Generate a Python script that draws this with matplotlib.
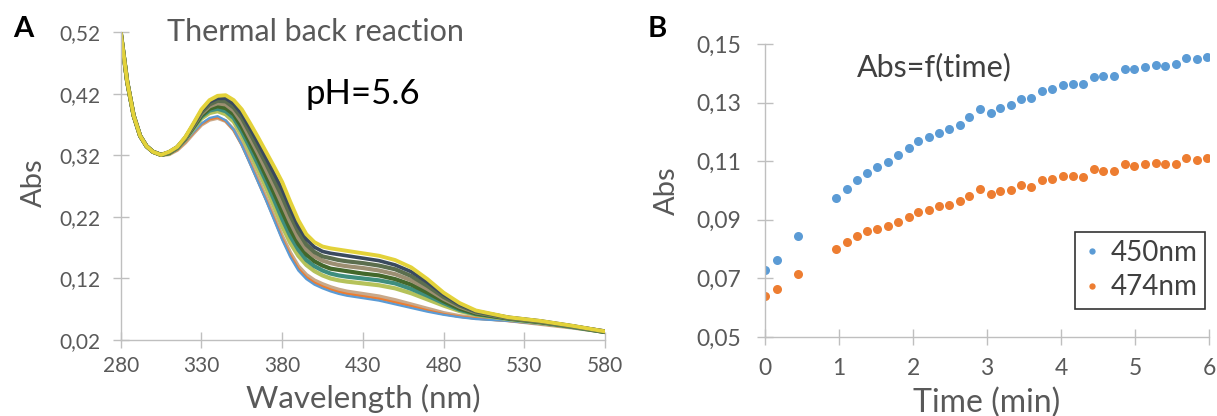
import matplotlib
matplotlib.use("Agg")
import matplotlib.pyplot as plt
from matplotlib.ticker import FuncFormatter

plt.rcParams.update({
    'font.family': ['Lato', 'DejaVu Sans'],
    'axes.edgecolor': '#BFBFBF',
    'axes.linewidth': 1.0,
})

GREY = '#595959'

# ---------------------------------------------------------------------------
# Panel A: UV-vis spectra during the thermal back reaction (pH 5.6)
# ---------------------------------------------------------------------------
wl_head = [280, 284, 288, 292, 296, 300, 305]
wl_body = [310, 315, 320, 325, 330, 335, 340, 345, 350, 355, 360, 365, 370, 375,
           380, 385, 390, 395, 400, 405, 410, 415, 420,
           430, 440, 450, 460, 470, 480, 490, 500, 520, 540, 560, 580]
wavelength = wl_head + wl_body

# short-wavelength part is the same for every spectrum
abs_head = [0.520, 0.440, 0.385, 0.352, 0.335, 0.326, 0.321]

spec_blue = [.322, .330, .343, .358, .372, .381, .384, .377, .362, .337, .307, .277, .247, .215,
             .183, .155, .133, .119, .110, .104, .099, .095, .092,
             .088, .084, .078, .072, .066, .061, .057, .054, .051, .046, .040, .033]
spec_orange = [.322, .329, .342, .357, .371, .379, .382, .376, .361, .337, .308, .278, .248, .217,
               .185, .158, .136, .122, .113, .107, .102, .098, .095,
               .091, .087, .081, .075, .068, .062, .058, .055, .051, .046, .040, .033]
spec_tan = [.322, .329, .341, .356, .370, .378, .381, .376, .362, .339, .311, .282, .252, .221,
            .189, .162, .140, .126, .117, .111, .106, .102, .099,
            .095, .091, .085, .078, .071, .064, .059, .056, .052, .046, .040, .033]
spec_g1 = [.323, .332, .346, .363, .380, .389, .392, .387, .375, .352, .325, .297, .268, .237,
           .205, .178, .157, .142, .132, .125, .120, .117, .115,
           .112, .109, .104, .096, .086, .076, .067, .061, .054, .048, .041, .033]
spec_g2 = [.324, .332, .347, .365, .383, .393, .396, .392, .381, .359, .333, .306, .278, .248,
           .217, .189, .167, .150, .140, .133, .128, .125, .123,
           .120, .117, .112, .103, .092, .080, .069, .062, .055, .049, .041, .033]
spec_g3 = [.324, .333, .347, .366, .385, .396, .400, .397, .387, .366, .341, .315, .287, .259,
           .229, .200, .176, .159, .148, .141, .136, .134, .132,
           .128, .125, .119, .110, .097, .083, .071, .063, .055, .049, .042, .033]
spec_g4 = [.325, .333, .348, .368, .388, .400, .405, .403, .393, .374, .349, .324, .297, .270,
           .241, .212, .186, .167, .156, .149, .145, .142, .140,
           .137, .133, .127, .117, .103, .087, .074, .065, .056, .050, .042, .034]
spec_g5 = [.325, .333, .349, .369, .390, .403, .409, .408, .398, .381, .357, .332, .307, .280,
           .253, .223, .196, .175, .163, .156, .153, .150, .148,
           .145, .141, .135, .124, .108, .090, .076, .066, .056, .050, .042, .034]
spec_g6 = [.326, .334, .349, .371, .393, .407, .413, .413, .404, .388, .365, .341, .316, .291,
           .265, .234, .205, .184, .171, .164, .161, .159, .157,
           .153, .149, .142, .131, .114, .094, .078, .067, .057, .051, .043, .034]
spec_top = [.326, .334, .350, .372, .395, .410, .417, .418, .410, .395, .373, .350, .326, .302,
            .277, .245, .215, .192, .179, .172, .169, .167, .165,
            .161, .157, .150, .138, .119, .097, .080, .068, .057, .051, .043, .034]

spectra = [spec_tan, spec_orange, spec_blue, spec_g1, spec_g2, spec_g3,
           spec_g4, spec_g5, spec_g6, spec_top]
spec_colors = ['#C9A98A', '#ED7D31', '#5B9BD5', '#B5C25A', '#3E8E7E', '#43682B',
               '#9C8F72', '#5B6E4E', '#3A4A5E', '#E3D23A']
spec_lw = [2.8, 1.8, 1.6, 3.0, 3.0, 3.0, 3.0, 3.0, 2.6, 2.8]

# ---------------------------------------------------------------------------
# Panel B: absorbance vs time
# ---------------------------------------------------------------------------
time_min = [0.00, 0.157, 0.44, 0.95, 1.107, 1.244, 1.376, 1.513, 1.66, 1.80,
            1.94, 2.07, 2.22, 2.35, 2.49, 2.63, 2.76, 2.90, 3.05, 3.18,
            3.32, 3.46, 3.60, 3.74, 3.88, 4.02, 4.16, 4.30, 4.44, 4.57,
            4.72, 4.86, 4.99, 5.13, 5.28, 5.41, 5.56, 5.69, 5.84, 5.98]
abs_450 = [0.0729, 0.0763, 0.0844, 0.0973, 0.1004, 0.1035, 0.1061, 0.1080, 0.1096, 0.1120,
           0.1145, 0.1168, 0.1182, 0.1196, 0.1211, 0.1225, 0.1250, 0.1277, 0.1265, 0.1280,
           0.1293, 0.1311, 0.1314, 0.1338, 0.1345, 0.1360, 0.1363, 0.1365, 0.1388, 0.1390,
           0.1390, 0.1414, 0.1414, 0.1422, 0.1429, 0.1426, 0.1430, 0.1451, 0.1447, 0.1456]
abs_474 = [0.0639, 0.0664, 0.0714, 0.0801, 0.0823, 0.0844, 0.0861, 0.0869, 0.0878, 0.0891,
           0.0909, 0.0926, 0.0935, 0.0947, 0.0950, 0.0964, 0.0982, 0.1004, 0.0988, 0.0998,
           0.1002, 0.1017, 0.1013, 0.1036, 0.1040, 0.1049, 0.1051, 0.1045, 0.1073, 0.1068,
           0.1066, 0.1089, 0.1085, 0.1090, 0.1093, 0.1089, 0.1089, 0.1112, 0.1103, 0.1112]


def comma_fmt(v, pos):
    return f"{v:.2f}".replace('.', ',')


def style_axes(ax):
    for side in ['top', 'right']:
        ax.spines[side].set_visible(False)
    ax.tick_params(direction='inout', length=11, width=1.0, color='#BFBFBF',
                   labelcolor=GREY, labelsize=15)


fig = plt.figure(figsize=(12.17, 4.16), dpi=100)

# ----- panel A -----
axA = fig.add_axes([0.0992, 0.1827, 0.3979, 0.7392])
for spec, col, lw in zip(spectra, spec_colors, spec_lw):
    axA.plot(wavelength, abs_head + spec, color=col, lw=lw,
             solid_capstyle='round', solid_joinstyle='round')
axA.set_xlim(280, 580)
axA.set_ylim(0.02, 0.52)
axA.set_xticks([280, 330, 380, 430, 480, 530, 580])
axA.set_yticks([0.02, 0.12, 0.22, 0.32, 0.42, 0.52])
axA.yaxis.set_major_formatter(FuncFormatter(comma_fmt))
style_axes(axA)
axA.tick_params(axis='x', pad=6)
axA.tick_params(axis='y', pad=9)
axA.set_xlabel('Wavelength (nm)', fontsize=22.5, color=GREY, labelpad=6)
axA.set_ylabel('Abs', fontsize=21, color=GREY)
axA.yaxis.set_label_coords(-0.152, 0.51)
axA.text(0.403, 1.0, 'Thermal back reaction', transform=axA.transAxes, ha='center',
         va='center', fontsize=22, color=GREY)
axA.text(0.50, 0.80, 'pH=5.6', transform=axA.transAxes, ha='center', va='center',
         fontsize=25, color='black')
fig.text(0.011, 0.93, 'A', fontsize=21, fontweight='bold', va='center')

# ----- panel B -----
axB = fig.add_axes([0.6288, 0.19, 0.3646, 0.7043])
axB.plot(time_min, abs_450, 'o', color='#5B9BD5', ms=6.5, mec='none', label='450nm')
axB.plot(time_min, abs_474, 'o', color='#ED7D31', ms=6.5, mec='none', label='474nm')
axB.set_xlim(0, 6)
axB.set_ylim(0.05, 0.15)
axB.set_xticks(range(0, 7))
axB.set_yticks([0.05, 0.07, 0.09, 0.11, 0.13, 0.15])
axB.yaxis.set_major_formatter(FuncFormatter(comma_fmt))
style_axes(axB)
axB.tick_params(labelsize=16.5)
axB.tick_params(axis='x', pad=10)
axB.tick_params(axis='y', pad=12)
axB.set_xlabel('Time (min)', fontsize=23, color=GREY, labelpad=6)
axB.set_ylabel('Abs', fontsize=21, color=GREY)
axB.yaxis.set_label_coords(-0.192, 0.5)
axB.text(0.38, 0.92, 'Abs=f(time)', transform=axB.transAxes, ha='center', va='center',
         fontsize=22, color='#404040')
leg = axB.legend(loc='lower right', bbox_to_anchor=(0.992, 0.096), borderaxespad=0,
                 fontsize=20, frameon=True, fancybox=False, edgecolor='black',
                 markerscale=0.7, handlelength=0.6, handletextpad=0.35,
                 borderpad=0.3, labelspacing=0.3)
leg.get_frame().set_linewidth(1.2)
for t in leg.get_texts():
    t.set_color('#404040')
fig.text(0.532, 0.93, 'B', fontsize=21, fontweight='bold', va='center')

fig.savefig('out.png', dpi=100)
